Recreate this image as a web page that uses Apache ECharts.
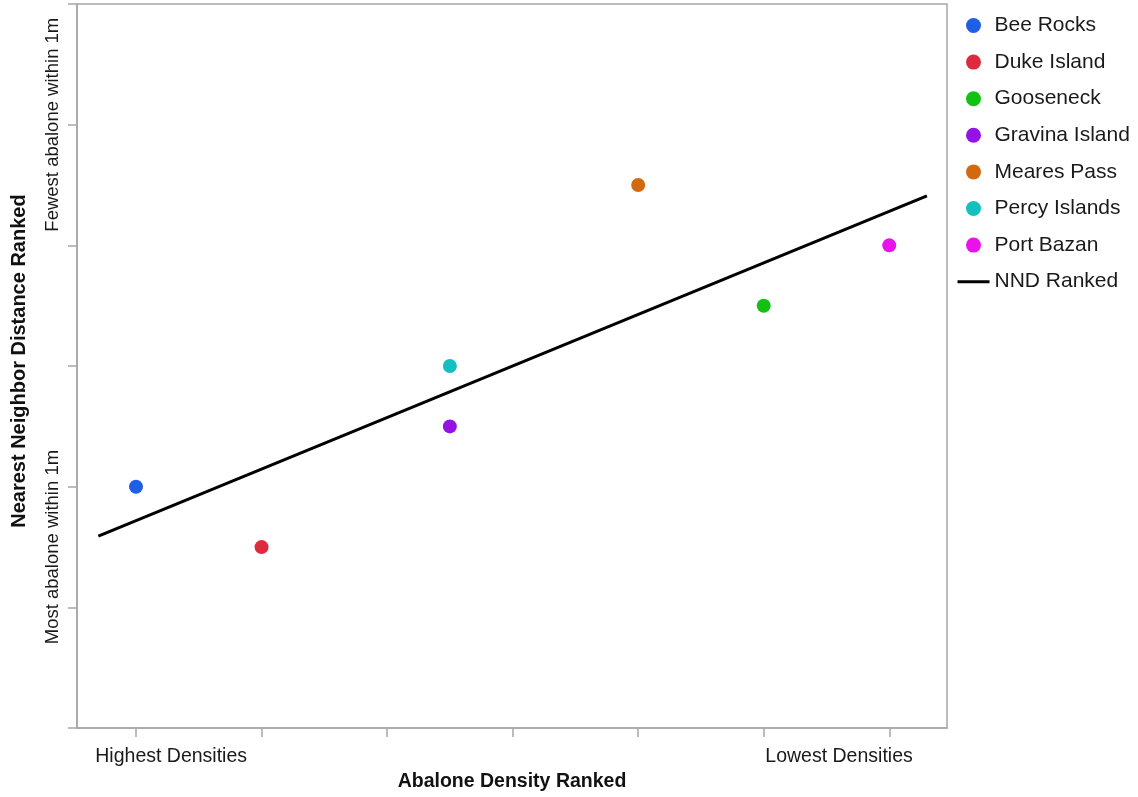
<!DOCTYPE html>
<html>
<head>
<meta charset="utf-8">
<script src="https://cdn.jsdelivr.net/npm/echarts@6/dist/echarts.min.js"></script>
<style>
html,body{margin:0;padding:0;background:#fff;}
#chart{width:1138px;height:797px;}
</style>
</head>
<body>
<div id="chart"></div>
<script>
// ---- data ----
var sites = ['Bee Rocks','Duke Island','Gooseneck','Gravina Island','Meares Pass','Percy Islands','Port Bazan'];
var densityRank = [1, 2, 6, 3.5, 5, 3.5, 7];
var nndRank = [2, 1.5, 3.5, 2.5, 4.5, 3, 4];
var siteColors = ['#1f5fe6','#de2a3e','#12c112','#9412e6','#d2690f','#14bfbf','#ea12ea'];
var fitName = 'NND Ranked';
var fitX = [0.7, 7.3];
var fitY = [1.59, 4.41];
var xTickValues = [1, 2, 3, 4, 5, 6, 7];
var xLabelText = ['Highest Densities', 'Lowest Densities'];
var xLabelAt = [1.28, 6.6];
var yTickValues = [0, 1, 2, 3, 4, 5, 6];
var yLabelText = ['Most abalone within 1m', 'Fewest abalone within 1m'];
var yLabelAt = [1.5, 5];

var FONT = '"Liberation Sans", Arial, sans-serif';
var AX = '#a6a6a6';

function lookup(vals, texts) {
  return function (v) {
    for (var i = 0; i < vals.length; i++) if (Math.abs(v - vals[i]) < 1e-6) return texts[i];
    return '';
  };
}

var series = sites.map(function (s, i) {
  return {
    name: s,
    type: 'scatter',
    symbol: 'circle',
    symbolSize: 14,
    itemStyle: { color: siteColors[i], opacity: 1 },
    data: [[densityRank[i], nndRank[i]]],
    z: 3
  };
});
series.push({
  name: fitName,
  type: 'line',
  symbol: 'none',
  showSymbol: false,
  lineStyle: { color: '#000', width: 3 },
  itemStyle: { color: '#000' },
  data: fitX.map(function (x, i) { return [x, fitY[i]]; }),
  z: 2
});

var chart = echarts.init(document.getElementById('chart'), null, { renderer: 'canvas' });
chart.setOption({
  animation: false,
  backgroundColor: '#fff',
  textStyle: { fontFamily: FONT },
  grid: {
    left: 77, right: 191, top: 4, bottom: 68,
    show: true, borderColor: AX, borderWidth: 1.5, backgroundColor: 'transparent'
  },
  legend: {
    orient: 'vertical',
    left: 951,
    top: 10,
    itemWidth: 32,
    itemHeight: 15,
    itemGap: 15.6,
    data: sites.map(function (s) { return { name: s, icon: 'circle' }; }).concat([{
      name: fitName,
      itemStyle: { color: 'transparent', borderColor: 'transparent', borderWidth: 0, opacity: 0 },
      lineStyle: { color: '#000', width: 3 }
    }]),
    textStyle: { fontFamily: FONT, fontSize: 21, color: '#1a1a1a', lineHeight: 21 }
  },
  xAxis: {
    type: 'value',
    min: 0.53,
    max: 7.46,
    name: 'Abalone Density Ranked',
    nameLocation: 'middle',
    nameGap: 42,
    nameTextStyle: { fontFamily: FONT, fontWeight: 'bold', fontSize: 19.5, color: '#111' },
    axisLine: { show: true, lineStyle: { color: AX, width: 1.5 } },
    axisTick: { show: true, length: 9, customValues: xTickValues, lineStyle: { color: AX, width: 1.5 } },
    axisLabel: {
      customValues: xLabelAt,
      formatter: lookup(xLabelAt, xLabelText),
      margin: 19,
      fontFamily: FONT, fontSize: 19.5, color: '#1a1a1a'
    },
    splitLine: { show: false }
  },
  yAxis: {
    type: 'value',
    min: 0,
    max: 6,
    name: 'Nearest Neighbor Distance Ranked',
    nameLocation: 'middle',
    nameRotate: 90,
    nameGap: 48,
    nameTextStyle: { fontFamily: FONT, fontWeight: 'bold', fontSize: 20, color: '#111', padding: [0, 0, 0, 10] },
    axisLine: { show: true, lineStyle: { color: AX, width: 1.5 } },
    axisTick: { show: true, length: 9, customValues: yTickValues, lineStyle: { color: AX, width: 1.5 } },
    axisLabel: {
      customValues: yLabelAt,
      formatter: lookup(yLabelAt, yLabelText),
      rotate: 90,
      margin: 14.5,
      fontFamily: FONT, fontSize: 18.5, color: '#1a1a1a'
    },
    splitLine: { show: false }
  },
  series: series
});
</script>
</body>
</html>
